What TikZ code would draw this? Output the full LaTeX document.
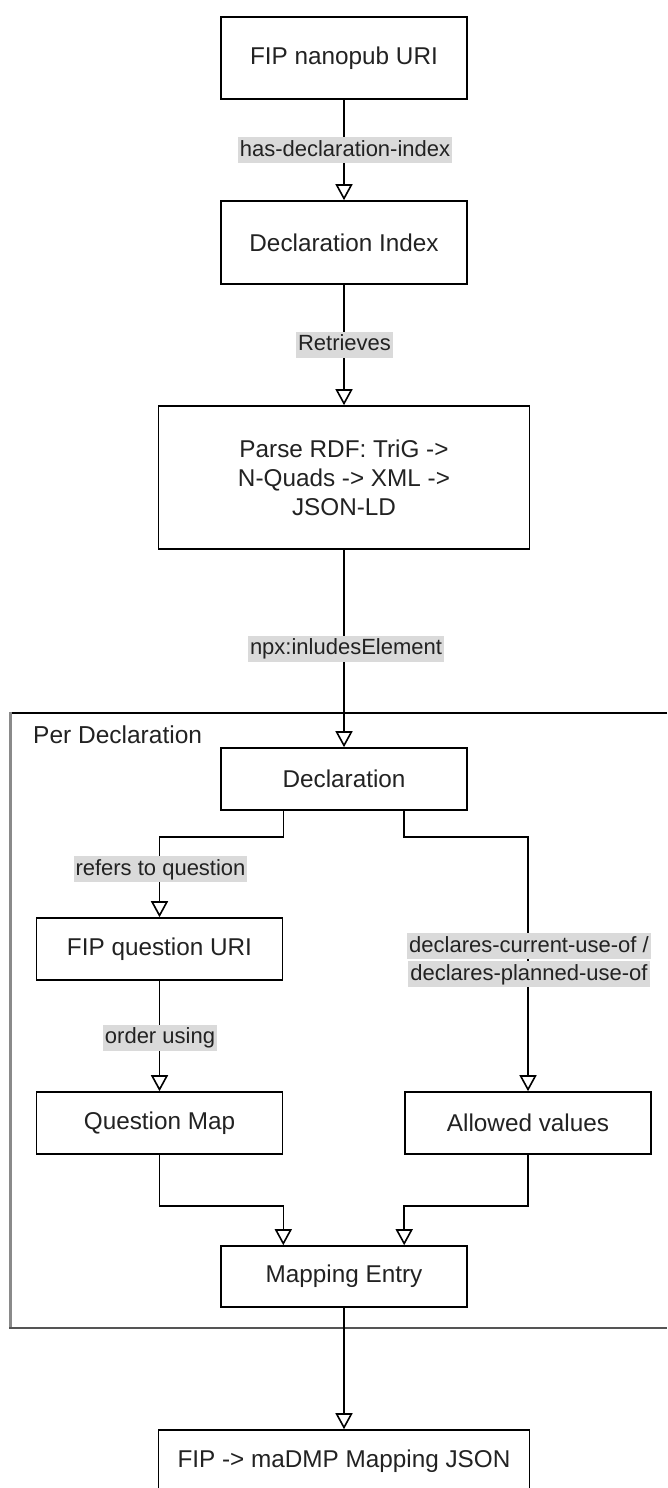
\documentclass[tikz,border=0pt]{standalone}
\usepackage{fontspec}
\setmainfont{Liberation Sans}
\usetikzlibrary{arrows.meta}
\definecolor{labelbg}{HTML}{DADADA}
\definecolor{ink}{HTML}{222222}
\definecolor{frameleft}{HTML}{8A8A8A}
\definecolor{framebottom}{HTML}{555555}
\begin{document}
\begin{tikzpicture}[x=1pt,y=-1pt,
  box/.style={draw=black, line width=1.6pt, fill=white, minimum width=246pt,
    minimum height=62pt, inner sep=0pt, text=ink, align=center,
    font=\fontsize{24.3}{29}\selectfont},
  widebox/.style={box, minimum width=371pt},
  lbl/.style={fill=labelbg, text=ink, font=\fontsize{22}{26}\selectfont,
    inner xsep=2pt, inner ysep=2pt, text height=17pt, text depth=5pt},
  flow/.style={draw=black, line width=1.6pt,
    -{Triangle[open, length=16pt, width=17pt, line width=1.6pt]}},
  plainline/.style={draw=black, line width=1.6pt}
]
\useasboundingbox (0,0) rectangle (667,1488);
\clip (0,0) rectangle (667,1488);

% container of the per-declaration steps
\draw[line width=1.6pt, black] (667,713) -- (10,713);
\draw[line width=3pt, frameleft] (10,712) -- (10,1328);
\draw[line width=2pt, framebottom] (9,1328) -- (667,1328);
\node[anchor=base west, inner sep=0pt, text=ink,
  font=\fontsize{24.5}{29}\selectfont] (grouptitle) at (33,743) {Per Declaration};

% steps
\node[box, minimum height=82pt] (nanopub) at (344,58) {FIP nanopub URI};
\node[box, minimum height=83pt] (declidx) at (344,242.5) {Declaration Index};
\node[widebox, minimum height=143pt] (parse) at (344,477.5)
  {Parse RDF: TriG ->\\N-Quads -> XML ->\\JSON-LD};
\node[box] (decl) at (344,779) {Declaration};
\node[box] (fipq) at (159.5,949) {FIP question URI};
\node[box] (qmap) at (159.5,1123) {Question Map};
\node[box] (allowed) at (528,1123) {Allowed values};
\node[box, minimum height=61pt] (entry) at (344,1276.5) {Mapping Entry};
\node[widebox] (json) at (344,1461) {FIP -> maDMP Mapping JSON};

% connectors
\draw[flow] (nanopub) -- (declidx);
\draw[flow] (declidx) -- (parse);
\draw[flow] (parse) -- (decl);
\draw[flow] (decl.south -| fipq.east) -- ++(0,26) -| (fipq.north);
\draw[flow] (decl.south -| allowed.west) -- ++(0,26) -| (allowed.north);
\draw[flow] (fipq) -- (qmap);
\draw[flow] (qmap.south) -- ++(0,51) -| (entry.north -| qmap.east);
\draw[flow] (allowed.south) -- ++(0,51) -| (entry.north -| allowed.west);
\draw[flow] (entry) -- (json);

% connector labels
\node[lbl] (lhasidx) at (345,150) {has-declaration-index};
\node[lbl] (lretr) at (344.5,344.5) {Retrieves};
\node[lbl] (lincl) at (346,648.5) {npx:inludesElement};
\node[lbl] (lrefers) at (160.5,869) {refers to question};
\node[lbl] (lorder) at (160,1037.5) {order using};
\node[lbl] (lcurrent) at (529,946) {declares-current-use-of /};
\node[lbl] (lplanned) at (529,974) {declares-planned-use-of};
\end{tikzpicture}
\end{document}
